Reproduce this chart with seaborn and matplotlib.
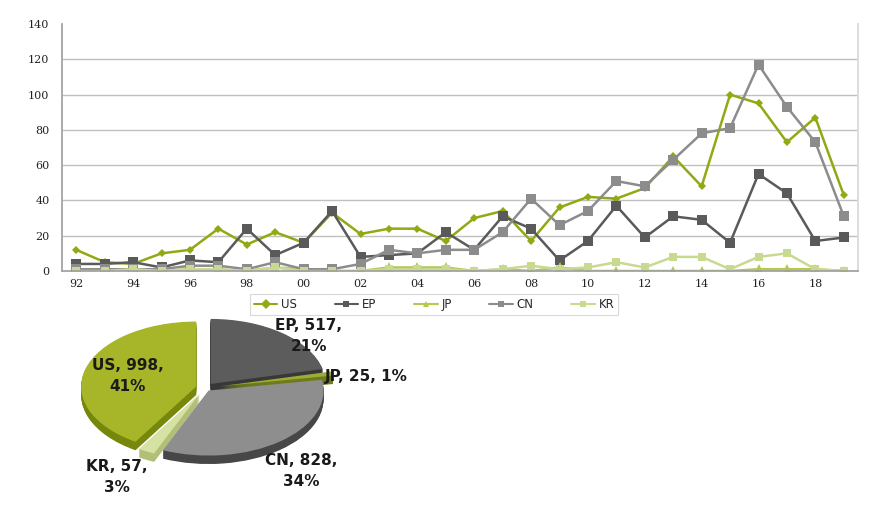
import numpy as np
import pandas as pd
import matplotlib
matplotlib.use("Agg")
import matplotlib.pyplot as plt
from matplotlib.lines import Line2D
import seaborn as sns

# ── Data ──────────────────────────────────────────────────────
years = ["92", "93", "94", "95", "96", "97", "98", "99", "00", "01",
         "02", "03", "04", "05", "06", "07", "08", "09", "10", "11",
         "12", "13", "14", "15", "16", "17", "18", "19"]
countries = ["US", "EP", "JP", "CN", "KR"]

us = [12, 5, 4, 10, 12, 24, 15, 22, 16, 33, 21, 24, 24, 17, 30, 34, 17, 36, 42, 41,
      47, 65, 48, 100, 95, 73, 87, 43]
ep = [4, 4, 5, 2, 6, 5, 24, 9, 16, 34, 8, 9, 10, 22, 12, 31, 24, 6, 17, 37,
      19, 31, 29, 16, 55, 44, 17, 19]
jp = [0, 0, 1, 0, 1, 1, 0, 2, 1, 0, 0, 2, 2, 2, 0, 1, 0, 2, 0, 0,
      0, 0, 0, 0, 1, 1, 1, 0]
cn = [1, 1, 1, 1, 3, 3, 1, 5, 1, 1, 4, 12, 10, 12, 12, 22, 41, 26, 34, 51,
      48, 63, 78, 81, 117, 93, 73, 31]
kr = [0, 0, 1, 0, 1, 1, 0, 2, 0, 0, 0, 1, 1, 1, 0, 1, 3, 1, 2, 5,
      2, 8, 8, 1, 8, 10, 1, 0]

pie_totals = [998, 517, 25, 828, 57]
pie_pct = [41, 21, 1, 34, 3]

# ── Style ─────────────────────────────────────────────────────
LINE_COLORS = {"US": "#8FAA12", "EP": "#5A5A5A", "JP": "#B4C94E",
               "CN": "#8C8C8C", "KR": "#C8DA90"}
MARKERS = {"US": "D", "EP": "s", "JP": "^", "CN": "s", "KR": "s"}
MSIZE = {"US": 4.5, "EP": 6.5, "JP": 6.5, "CN": 6.5, "KR": 5.5}
PIE_TOP = ["#A6B628", "#5C5C5C", "#9DAC32", "#8E8E8E", "#D6E2A2"]
PIE_SIDE = ["#77870C", "#383838", "#6E7A1C", "#474747", "#B2BF78"]
GRID = "#C0C0C0"

sns.set_theme(style="white")
plt.rcParams["font.family"] = ["DejaVu Sans"]

fig = plt.figure(figsize=(8.8, 5.18), dpi=100)
fig.patch.set_facecolor("white")

# ── Line chart ────────────────────────────────────────────────
ax = fig.add_axes([62 / 880, 1 - 271 / 518, 796 / 880, 247 / 518])
series = {"US": us, "EP": ep, "JP": jp, "CN": cn, "KR": kr}
df = pd.DataFrame([(y, c, v) for c in countries for y, v in zip(years, series[c])],
                  columns=["year", "country", "value"])
df["pos"] = df["year"].map({y: i for i, y in enumerate(years)})

sns.lineplot(data=df, x="pos", y="value", hue="country", style="country",
             hue_order=countries, style_order=countries, palette=LINE_COLORS,
             markers=MARKERS, dashes=False, linewidth=1.8, markeredgewidth=0,
             legend=False, ax=ax)
for line, c in zip(ax.lines, countries):
    line.set_markersize(MSIZE[c])

n = len(years)
ax.set_xlim(-0.5, n - 0.5)
ax.set_ylim(0, 140)
ax.set_yticks(range(0, 141, 20))
ax.set_xticks(range(0, n, 2))
ax.set_xticklabels(years[::2])
ax.set_xticks(np.arange(n + 1) - 0.5, minor=True)
ax.set_xlabel("")
ax.set_ylabel("")
ax.grid(axis="y", color=GRID, linewidth=1)
ax.get_ygridlines()[-1].set_visible(False)
ax.tick_params(axis="x", which="major", length=0, pad=6)
ax.tick_params(axis="x", which="minor", length=4, color="#A0A0A0", direction="out")
ax.tick_params(axis="y", length=5, color="#A0A0A0", direction="out", pad=4)
for lab in ax.get_xticklabels() + ax.get_yticklabels():
    lab.set_fontfamily("DejaVu Serif")
    lab.set_fontsize(8)
    lab.set_color("#222222")
ax.spines["top"].set_visible(False)
ax.spines["left"].set_color("#A0A0A0")
ax.spines["bottom"].set_color("#A0A0A0")
ax.spines["right"].set_color("#D8D8D8")

handles = [Line2D([0], [0], color=LINE_COLORS[c], marker=MARKERS[c], markersize=5,
                  markeredgewidth=0, linewidth=1.5) for c in countries]
leg = fig.legend(handles, countries, loc="center", ncol=5,
                 bbox_to_anchor=(434 / 880, 1 - 304.5 / 518),
                 frameon=True, fancybox=False, edgecolor="#D0D0D0",
                 fontsize=8.5, handlelength=2, handletextpad=0.3,
                 columnspacing=3.2, borderpad=0.3)
leg.get_frame().set_linewidth(0.8)

# ── Exploded 3D-look pie ──────────────────────────────────────
pax = fig.add_axes([60 / 880, 1 - 505 / 518, 340 / 880, 200 / 518])
pax.set_zorder(3)
share_us = pie_totals[0] / sum(pie_totals)
start = 90 + 360 * share_us
explode = [0.08, 0.08, 0.13, 0.05, 0.1]
depth = 0.13
for k in range(12):
    pax.pie(pie_totals, explode=explode, startangle=start, counterclock=False,
            colors=PIE_SIDE, center=(0, -depth * (1 - k / 12)),
            wedgeprops=dict(linewidth=0))
wedges, _ = pax.pie(pie_totals, explode=explode, startangle=start, counterclock=False,
                    colors=PIE_TOP, wedgeprops=dict(linewidth=0))
pax.set_aspect("auto")
pax.set_xlim(-145 / 115, 195 / 115)
pax.set_ylim(-117 / 65, 83 / 65)
pax.axis("off")

# label anchor: distance along wedge bisector plus a small nudge (axis units)
label_r = [0.7, 1.1, 1.06, 1.55, 1.55]
label_dx = [0.0, 0.22, 0.0, -0.12, -0.05]
label_dy = [0.0, -0.06, -0.03, -0.05, 0.0]
label_ha = ["center", "center", "left", "center", "center"]
for w, c, tot, pct, r, dx, dy, ha in zip(wedges, countries, pie_totals, pie_pct,
                                         label_r, label_dx, label_dy, label_ha):
    mid = np.deg2rad((w.theta1 + w.theta2) / 2)
    sep = " " if c == "JP" else "\n"
    pax.text(r * np.cos(mid) + dx, r * np.sin(mid) + dy, f"{c}, {tot},{sep}{pct}%",
             ha=ha, va="center", fontsize=11, fontweight="bold",
             color="#1A1A1A", linespacing=1.5)

plt.savefig("out.png", dpi=100)
plt.close()
